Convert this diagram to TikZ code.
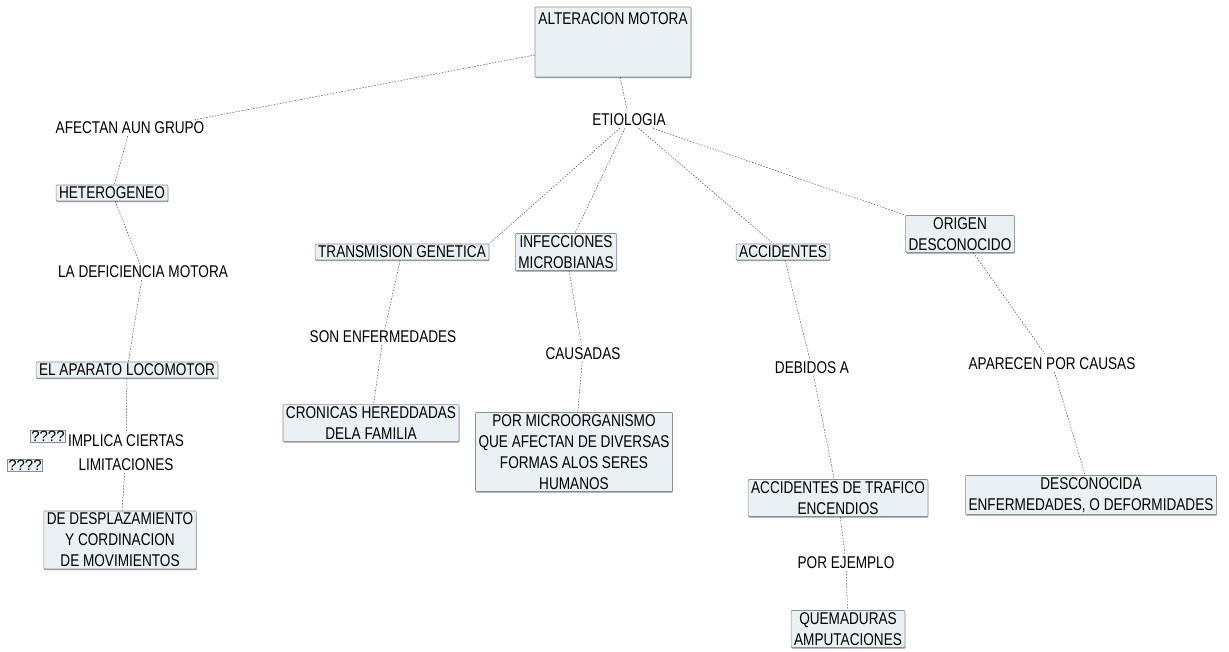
\documentclass[tikz,border=0pt]{standalone}
\usepackage{fontspec}
\setmainfont[FakeStretch=0.8]{Liberation Sans}
\newfontfamily\qfont{Liberation Sans}
\usetikzlibrary{shadows}
\definecolor{boxfill}{HTML}{EAF1F4}
\definecolor{boxline}{HTML}{8A8F93}
\definecolor{linkcol}{HTML}{4A4A4A}
\tikzset{
  concept/.style={draw=boxline, fill=boxfill, line width=0.6pt, rounded corners=1pt,
    align=center, inner xsep=3pt, inner ysep=2pt, font=\fontsize{17}{21}\selectfont,
    drop shadow={shadow xshift=0.4pt, shadow yshift=-1.2pt, opacity=0.6, fill=black!70}},
  phrase/.style={align=center, inner sep=2pt, font=\fontsize{17}{24}\selectfont},
  link/.style={draw=linkcol, line width=0.5pt, dash pattern=on 1.5pt off 1.5pt},
  qbox/.style={draw=boxline, fill=boxfill, line width=0.4pt, inner sep=1pt,
    font=\qfont\fontsize{15}{17}\selectfont}
}
\begin{document}
\begin{tikzpicture}[x=1pt,y=-1pt]
\useasboundingbox (0,0) rectangle (1229,651);
% top concept
\node[concept, minimum width=156pt, minimum height=70pt] (alt) at (613,42) {};
\node[anchor=north, inner sep=0pt, font=\fontsize{17}{21}\selectfont] (alttext) at ([yshift=-6pt]alt.north) {ALTERACION MOTORA};
% left branch
\node[phrase] (afectan) at (130,128) {AFECTAN AUN GRUPO};
\node[concept] (hetero) at (112,193) {HETEROGENEO};
\node[phrase] (deficiencia) at (143,272) {LA DEFICIENCIA MOTORA};
\node[concept] (aparato) at (127,370) {EL APARATO LOCOMOTOR};
\node[phrase] (implica) at (126,453) {IMPLICA CIERTAS\\LIMITACIONES};
\node[qbox] (qa) at (48,436) {????};
\node[qbox] (qb) at (25,465) {????};
\node[concept] (desplaz) at (120,540) {DE DESPLAZAMIENTO\\Y CORDINACION\\DE MOVIMIENTOS};
% etiologia
\node[phrase] (etio) at (629,120) {ETIOLOGIA};
\node[concept] (transm) at (402,252) {TRANSMISION GENETICA};
\node[phrase] (sonenf) at (383,337) {SON ENFERMEDADES};
\node[concept] (cronicas) at (371,423) {CRONICAS HEREDDADAS\\DELA FAMILIA};
\node[concept] (infecc) at (566,252) {INFECCIONES\\MICROBIANAS};
\node[phrase] (causadas) at (583,354) {CAUSADAS};
\node[concept] (microorg) at (574,452) {POR MICROORGANISMO\\QUE AFECTAN DE DIVERSAS\\FORMAS ALOS SERES\\HUMANOS};
\node[concept] (accid) at (783,252) {ACCIDENTES};
\node[phrase] (debidos) at (812,368) {DEBIDOS A};
\node[concept] (trafico) at (838,498) {ACCIDENTES DE TRAFICO\\ENCENDIOS};
\node[phrase] (ejemplo) at (846,563) {POR EJEMPLO};
\node[concept] (quemad) at (848,629) {QUEMADURAS\\AMPUTACIONES};
\node[concept] (origen) at (960,234) {ORIGEN\\DESCONOCIDO};
\node[phrase] (aparecen) at (1052,364) {APARECEN POR CAUSAS};
\node[concept] (descon) at (1091,495) {DESCONOCIDA\\ENFERMEDADES, O DEFORMIDADES};
% connectors
\draw[link] ([yshift=-13pt]alt.west) -- ([xshift=-12pt]afectan.north east);
\draw[link] (afectan) -- (hetero);
\draw[link] (hetero) -- (deficiencia);
\draw[link] (deficiencia) -- (aparato);
\draw[link] (aparato) -- (implica);
\draw[link] (implica) -- (desplaz);
\draw[link] (alt) -- (etio);
\draw[link] (etio) -- (transm.north east);
\draw[link] (etio) -- (infecc);
\draw[link] (etio) -- (accid);
\draw[link] (etio) -- (origen);
\draw[link] (transm) -- (sonenf);
\draw[link] (sonenf) -- (cronicas);
\draw[link] (infecc) -- (causadas);
\draw[link] (causadas) -- (microorg);
\draw[link] (accid) -- (debidos);
\draw[link] (debidos) -- (trafico);
\draw[link] (trafico) -- (ejemplo);
\draw[link] (ejemplo) -- (quemad);
\draw[link] (origen) -- (aparecen);
\draw[link] (aparecen) -- (descon);
\end{tikzpicture}
\end{document}
